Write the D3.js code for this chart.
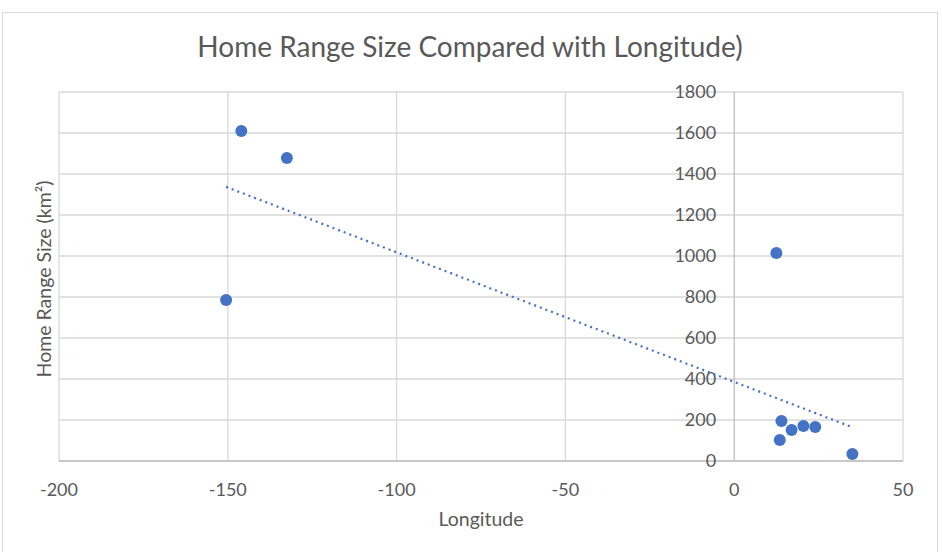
<!DOCTYPE html>
<html><head><meta charset="utf-8">
<script src="https://cdn.jsdelivr.net/npm/d3@7"></script>
<style>body{margin:0;background:#fff}svg{display:block}text{font-family:Lato,"Open Sans",sans-serif}</style>
</head><body><svg id="c" width="942" height="552"></svg>
<script>
const longitude = [-146, -132.5, -150.5, 12.5, 14, 17, 20.5, 24, 13.5, 35];
const homeRange = [1610, 1478, 785, 1015, 195, 151, 171, 166, 102, 34];
const xTicks = [-200, -150, -100, -50, 0, 50];
const yTicks = [0, 200, 400, 600, 800, 1000, 1200, 1400, 1600, 1800];
const title = "Home Range Size Compared with Longitude)";
const xTitle = "Longitude";
const yTitle = "Home Range Size (km²)";

const svg = d3.select("#c");
const m = {l: 59, r: 903, t: 92, b: 461};
const x = d3.scaleLinear().domain([-200, 50]).range([m.l, m.r]);
const y = d3.scaleLinear().domain([0, 1800]).range([m.b, m.t]);
const grey = "#595959";

svg.append("rect").attr("x", 2.5).attr("y", 12.5).attr("width", 935).attr("height", 560)
  .attr("fill", "#fff").attr("stroke", "#d9d9d9");

// gridlines
svg.append("g").selectAll("line").data(yTicks).join("line")
  .attr("x1", m.l).attr("x2", m.r).attr("y1", d => y(d)).attr("y2", d => y(d))
  .attr("stroke", "#d9d9d9").attr("stroke-width", 1.3);
svg.append("g").selectAll("line").data(xTicks.filter(d => d !== 0)).join("line")
  .attr("y1", m.t).attr("y2", m.b).attr("x1", d => x(d)).attr("x2", d => x(d))
  .attr("stroke", "#d9d9d9").attr("stroke-width", 1.3);

// axes lines
svg.append("line").attr("x1", x(0)).attr("x2", x(0)).attr("y1", m.t).attr("y2", m.b)
  .attr("stroke", "#bfbfbf").attr("stroke-width", 1.3);
svg.append("line").attr("x1", m.l).attr("x2", m.r).attr("y1", y(0)).attr("y2", y(0))
  .attr("stroke", "#bfbfbf").attr("stroke-width", 1.3);

// tick labels
svg.append("g").selectAll("text").data(yTicks).join("text")
  .attr("x", x(0) - 18).attr("y", d => y(d)).attr("dy", "0.35em")
  .attr("text-anchor", "end").attr("font-size", 18).attr("fill", grey).text(d => d);
svg.append("g").selectAll("text").data(xTicks).join("text")
  .attr("x", d => x(d)).attr("y", 496)
  .attr("text-anchor", "middle").attr("font-size", 18).attr("fill", grey).text(d => d);

// trendline (least squares)
const n = longitude.length;
const mx = d3.mean(longitude), my = d3.mean(homeRange);
let sxy = 0, sxx = 0;
for (let i = 0; i < n; i++) { sxy += (longitude[i]-mx)*(homeRange[i]-my); sxx += (longitude[i]-mx)**2; }
const slope = sxy / sxx, icpt = my - slope * mx;
const [x0, x1] = d3.extent(longitude);
svg.append("line").attr("x1", x(x0)).attr("y1", y(icpt + slope*x0))
  .attr("x2", x(x1)).attr("y2", y(icpt + slope*x1))
  .attr("stroke", "#4472c4").attr("stroke-width", 2.2).attr("stroke-dasharray", "2,4");

// points
svg.append("g").selectAll("circle").data(longitude.map((d, i) => [d, homeRange[i]])).join("circle")
  .attr("cx", d => x(d[0])).attr("cy", d => y(d[1])).attr("r", 6).attr("fill", "#4472c4");

// titles
svg.append("text").attr("x", 470).attr("y", 57).attr("text-anchor", "middle")
  .attr("font-size", 28).attr("fill", grey).text(title);
svg.append("text").attr("x", 481).attr("y", 526).attr("text-anchor", "middle")
  .attr("font-size", 19.5).attr("fill", grey).text(xTitle);
svg.append("text").attr("transform", "translate(51,279) rotate(-90)").attr("text-anchor", "middle")
  .attr("font-size", 19.5).attr("fill", grey).text(yTitle);
</script></body></html>
